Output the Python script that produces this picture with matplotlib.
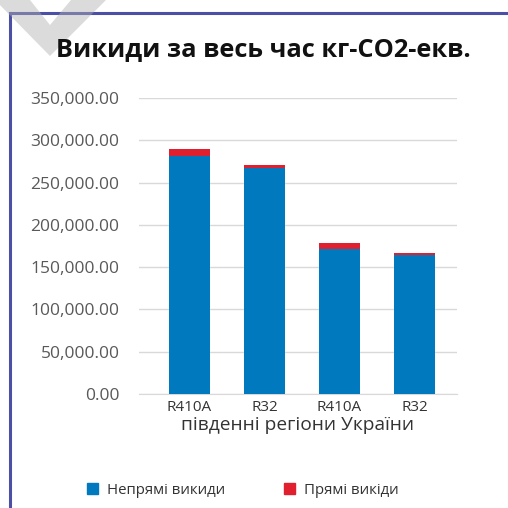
import matplotlib
matplotlib.use("Agg")
import matplotlib.pyplot as plt
from matplotlib.patches import Polygon
from matplotlib.lines import Line2D
from matplotlib.ticker import FuncFormatter
import numpy as np

categories = ["R410A", "R32", "R410A", "R32"]
indirect = [281000, 267500, 171000, 164500]
direct = [8300, 2800, 7800, 2300]
yticks = [0, 50000, 100000, 150000, 200000, 250000, 300000, 350000]

title = "Викиди за весь час кг-СО2-екв."
xlabel = "південні регіони України"
legend_labels = ["Непрямі викиди", "Прямі викіди"]

blue = "#0079BF"
red = "#E0202E"

plt.rcParams['font.family'] = ['Open Sans', 'DejaVu Sans']

fig = plt.figure(figsize=(5.08, 5.08), dpi=100)
W = H = 508.0

# frame lines
fig.add_artist(Line2D([10/W, 10/W], [0, 1-13/H], transform=fig.transFigure, color="#4b4fa6", lw=2.2, zorder=1))
fig.add_artist(Line2D([10/W, 1.0], [1-13/H, 1-13/H], transform=fig.transFigure, color="#4b4fa6", lw=2.2, zorder=1))

# decorative semi-transparent watermark chevron
pts = [(-5, 0), (30, 0), (50, 25), (71, 0), (106, 0), (50, 56)]
wm = Polygon([(px / W, 1 - py / H) for px, py in pts],
             closed=True, transform=fig.transFigure, facecolor="#b0b0b0", alpha=0.45,
             edgecolor="none", zorder=2)
fig.add_artist(wm)

ax = fig.add_axes([139/W, 1-394/H, (456.7-139)/W, (394-98)/H])
x = np.arange(len(categories))
ax.bar(x, indirect, width=0.547, color=blue, zorder=3)
ax.bar(x, direct, bottom=indirect, width=0.547, color=red, zorder=3)

ax.set_xlim(-0.67, 3.56)
ax.set_ylim(0, 350000)
ax.set_yticks(yticks)
ax.yaxis.set_major_formatter(FuncFormatter(lambda v, p: f"{v:,.2f}"))
ax.set_xticks(x)
ax.set_xticklabels(categories)
ax.grid(axis='y', color="#d9d9d9", lw=1, zorder=0)
for s in ["top", "right", "left"]:
    ax.spines[s].set_visible(False)
ax.spines["bottom"].set_color("#d9d9d9")
ax.tick_params(axis='both', length=0)
ax.tick_params(axis='y', labelsize=12.5, labelcolor="#595959", pad=14)
ax.tick_params(axis='x', labelsize=11, labelcolor="#333333", pad=4)
ax.set_xlabel(xlabel, fontsize=13.8, color="#333333", labelpad=1)

fig.text(263/W, 1-50/H, title, ha='center', va='center', fontsize=18.3, fontweight='bold', color="#111111")

handles = [plt.Rectangle((0, 0), 1, 1, color=blue), plt.Rectangle((0, 0), 1, 1, color=red)]
fig.legend(handles, legend_labels, loc='center', bbox_to_anchor=(243/W, 1-490/H), ncol=2,
           frameon=False, fontsize=10.8, handlelength=0.75, handleheight=0.75, columnspacing=3.9,
           handletextpad=0.6, labelcolor="#333333")

fig.savefig("out.png", dpi=100)
